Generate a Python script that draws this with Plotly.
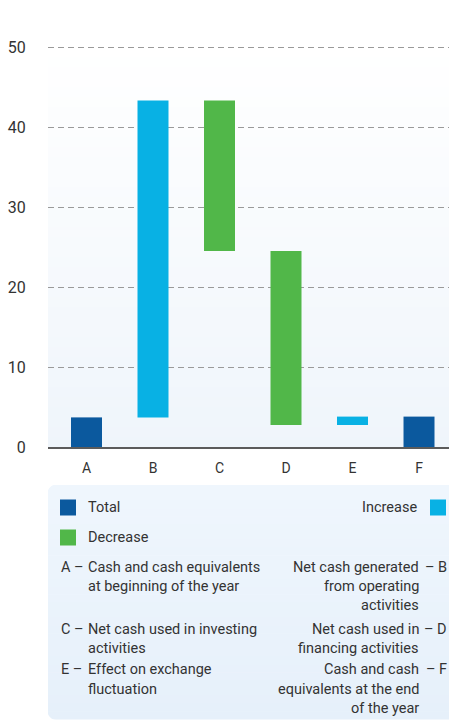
import plotly.graph_objects as go

# ---- data ----
categories = ["A", "B", "C", "D", "E", "F"]
bar_start = [0, 3.7, 43.3, 24.5, 2.75, 0]
bar_end = [3.7, 43.3, 24.5, 2.75, 3.8, 3.8]
bar_kind = ["Total", "Increase", "Decrease", "Decrease", "Increase", "Total"]
y_ticks = [0, 10, 20, 30, 40, 50]

left_notes = [
    ("A –", ["Cash and cash equivalents", "at beginning of the year"]),
    ("C –", ["Net cash used in investing", "activities"]),
    ("E –", ["Effect on exchange", "fluctuation"]),
]
right_notes = [
    ("– B", ["Net cash generated", "from operating", "activities"]),
    ("– D", ["Net cash used in", "financing activities"]),
    ("– F", ["Cash and cash", "equivalents at the end", "of the year"]),
]

colors = {"Total": "#0B599E", "Increase": "#08B1E4", "Decrease": "#51B749"}

W, H = 449, 720
L, R, T, B = 48, 0, 39, 273
PW, PH = W - L - R, H - T - B
Y_MAX = 51
X_RANGE = [-0.579, 5.451]


def xp(px):
    return (px - L) / PW


def yp(py):
    return (H - B - py) / PH


def lerp(c1, c2, t):
    a = [int(c1[i:i + 2], 16) for i in (1, 3, 5)]
    b = [int(c2[i:i + 2], 16) for i in (1, 3, 5)]
    return "#%02x%02x%02x" % tuple(round(a[k] + (b[k] - a[k]) * t) for k in range(3))


fig = go.Figure()

base = [min(s, e) for s, e in zip(bar_start, bar_end)]
height = [abs(e - s) for s, e in zip(bar_start, bar_end)]
fig.add_trace(go.Bar(
    x=categories, y=height, base=base,
    marker=dict(color=[colors[k] for k in bar_kind], line=dict(width=0)),
    width=0.466, showlegend=False, hoverinfo="skip",
))

shapes = []
# plot-area gradient
n = 40
top_px, bot_px = 47, H - B
for i in range(n):
    y0 = top_px + (bot_px - top_px) * i / n
    y1 = top_px + (bot_px - top_px) * (i + 1) / n
    shapes.append(dict(type="rect", xref="paper", yref="paper", layer="below",
                       x0=0, x1=1, y0=yp(y1), y1=yp(y0),
                       fillcolor=lerp("#ffffff", "#eff5fb", (i + 0.5) / n),
                       line=dict(width=0)))
# legend box gradient
bx0, by0, bx1, by1 = 48, 485, 449, 719
m = 30
for i in range(m):
    y0 = by0 + (by1 - by0) * i / m
    y1 = by0 + (by1 - by0) * (i + 1) / m
    shapes.append(dict(type="rect", xref="paper", yref="paper", layer="below",
                       x0=xp(bx0), x1=xp(bx1 + 2), y0=yp(y1 + 0.5), y1=yp(y0),
                       fillcolor=lerp("#eff6fd", "#e6f0fa", (i + 0.5) / m),
                       line=dict(width=0)))
# rounded-corner masks
r = 9
k = 0.4477
def corner(cx, cy, sx, sy):
    p = (f"M {xp(cx)},{yp(cy)} L {xp(cx + sx*r)},{yp(cy)} "
         f"C {xp(cx + sx*r*k)},{yp(cy)} {xp(cx)},{yp(cy + sy*r*k)} {xp(cx)},{yp(cy + sy*r)} Z")
    return dict(type="path", xref="paper", yref="paper", layer="below", path=p,
                fillcolor="#ffffff", line=dict(width=0))
shapes.append(corner(bx0 - 0.5, by1 + 1, 1, -1))
shapes.append(corner(bx0 - 0.5, by0 - 0.5, 1, 1))

# legend swatches
def swatch(x0, y0, color):
    return dict(type="rect", xref="paper", yref="paper", layer="above",
                x0=xp(x0), x1=xp(x0 + 16), y0=yp(y0 + 16), y1=yp(y0),
                fillcolor=color, line=dict(width=0))
shapes.append(swatch(60, 499.5, colors["Total"]))
shapes.append(swatch(430, 499.5, colors["Increase"]))
shapes.append(swatch(60, 529.5, colors["Decrease"]))

FONT = "Roboto"
TXT = "#333333"
FS = 14.5
ann = []
def text(x, y, s, anchor):
    ann.append(dict(xref="paper", yref="paper", x=xp(x), y=yp(y), text=s,
                    showarrow=False, xanchor=anchor, yanchor="middle",
                    font=dict(family=FONT, size=FS, color=TXT)))

text(86, 507.5, "Total", "left")
text(419, 507.5, "Increase", "right")
text(86, 537.5, "Decrease", "left")

row_y = [567, 629, 670]
lh = 19.2
for (lab, lines), y in zip(left_notes, row_y):
    text(59, y, lab, "left")
    for j, ln in enumerate(lines):
        text(86, y + j * lh, ln, "left")
for (lab, lines), y in zip(right_notes, row_y):
    text(449, y, lab, "right")
    for j, ln in enumerate(lines):
        text(421, y + j * lh, ln, "right")

fig.update_layout(
    width=W, height=H,
    margin=dict(l=L, r=R, t=T, b=B, pad=0),
    paper_bgcolor="#ffffff", plot_bgcolor="rgba(0,0,0,0)",
    shapes=shapes, annotations=ann, bargap=0.5,
    font=dict(family=FONT, color=TXT),
)
fig.update_xaxes(
    type="category", range=X_RANGE, showgrid=False, showline=True,
    linecolor="#5b5b5b", linewidth=2,
    ticks="outside", ticklen=7, tickcolor="rgba(0,0,0,0)",
    tickfont=dict(family=FONT, size=14, color=TXT), fixedrange=True,
)
fig.update_yaxes(
    range=[0, Y_MAX], tickvals=y_ticks, showgrid=True, gridcolor="#9a9a9a", gridwidth=1,
    griddash="6px,4px", zeroline=False, showline=False,
    ticks="outside", ticklen=18, tickcolor="rgba(0,0,0,0)",
    tickfont=dict(family=FONT, size=16, color=TXT), fixedrange=True,
)

fig.write_html("out.html", config={"displayModeBar": False},
               post_script="document.body.style.margin='0';")
